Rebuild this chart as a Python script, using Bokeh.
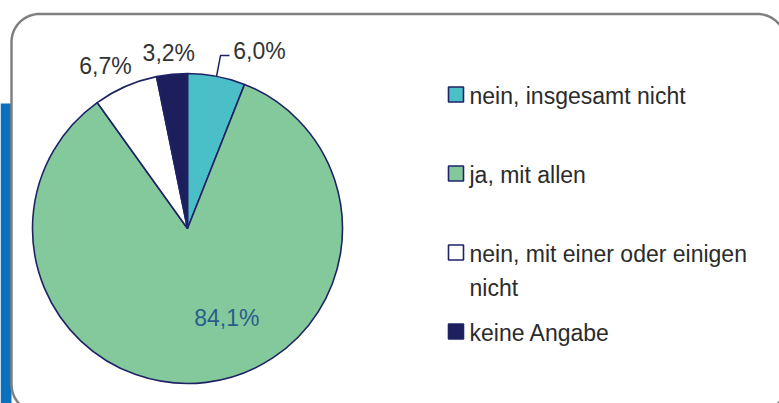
import numpy as np
from bokeh.plotting import figure
from bokeh.models import Range1d
from bokeh.core.properties import value
from bokeh.embed import file_html
from bokeh.resources import INLINE

# ---------------- data ----------------
categories = ["nein, insgesamt nicht", "ja, mit allen",
              "nein, mit einer oder einigen nicht", "keine Angabe"]
legend_lines = ["nein, insgesamt nicht", "ja, mit allen",
                "nein, mit einer oder einigen\nnicht", "keine Angabe"]
shares = [6.0, 84.1, 6.7, 3.2]
share_labels = ["6,0%", "84,1%", "6,7%", "3,2%"]
colors = ["#4bbfc7", "#84c99c", "#ffffff", "#1d1f5c"]
label_colors = ["#333333", "#2b5d8c", "#333333", "#333333"]

# ---------------- layout (pixel coordinates of the page) ----------------
W, H = 779, 403
PAGE_H = 403


def Y(row):
    return PAGE_H - np.asarray(row, dtype=float)


NAVY = "#1f2366"
FONT = value("Liberation Sans")

p = figure(width=W, height=H, x_range=Range1d(0, W), y_range=Range1d(0, H),
           output_backend="svg", toolbar_location=None,
           x_axis_type=None, y_axis_type=None, min_border=0)
p.grid.visible = False
p.outline_line_color = None
p.background_fill_color = "white"
p.border_fill_color = "white"

# blue side bar
p.quad(left=0, right=11, top=Y(103), bottom=Y(430), fill_color="#0b70bd", line_color=None)

# rounded frame
L, T, R_, B, rr = 11, 13.5, 785, 412, 28
def arc(cx, cy, a_from, a_to, n=20):
    a = np.linspace(a_from, a_to, n)
    return cx + rr * np.cos(a), cy + rr * np.sin(a)
parts = [arc(L + rr, Y(T + rr), np.pi, np.pi / 2),
         arc(R_ - rr, Y(T + rr), np.pi / 2, 0),
         arc(R_ - rr, Y(B - rr), 0, -np.pi / 2),
         arc(L + rr, Y(B - rr), -np.pi / 2, -np.pi)]
fx = np.concatenate([q[0] for q in parts] + [parts[0][0][:1]])
fy = np.concatenate([q[1] for q in parts] + [parts[0][1][:1]])
p.patch(fx, fy, fill_color="white", line_color="#808080", line_width=2.5)

# pie
cx, cy, R = 187.0, float(Y(228)), 155.0
fr = np.array(shares) / np.sum(shares)
a0 = np.pi / 2 - 2 * np.pi * np.concatenate([[0], np.cumsum(fr)[:-1]])
a1 = a0 - 2 * np.pi * fr
p.wedge(x=cx, y=cy, radius=R, start_angle=a1, end_angle=a0, direction="anticlock",
        fill_color=colors, line_color=NAVY, line_width=1.6)

mid = (a0 + a1) / 2
lab_r = np.array([176, 93, 180, 176])
off_x = np.array([39, 28, -10, -1])
off_y = np.array([5, 3, -2, 0])
lx = cx + lab_r * np.cos(mid) + off_x
ly = cy + lab_r * np.sin(mid) + off_y
p.text(x=lx, y=ly, text=share_labels, text_color=label_colors, text_font=FONT,
       text_font_size="23px", text_align="center", text_baseline="middle")

# leader line for first slice
ex = cx + 176 * np.cos(mid[0])
ey = cy + 176 * np.sin(mid[0])
p.line(x=[cx + R * np.cos(mid[0]), ex, ex + 9], y=[cy + R * np.sin(mid[0]), ey, ey],
       line_color=NAVY, line_width=1.5)

# legend
rows = 94 + 79 * np.arange(len(categories))
p.rect(x=455.5, y=Y(rows), width=15, height=15, fill_color=colors,
       line_color=NAVY, line_width=1.6)
nlines = np.array([s.count("\n") + 1 for s in legend_lines])
p.text(x=469, y=Y(rows) - (nlines - 1) * 35 / 2 - 1, text=legend_lines, text_color="#2b2b2b",
       text_font=FONT, text_font_size="23px", text_baseline="middle",
       text_line_height=1.32)

open("out.html", "w").write(file_html(p, INLINE))
